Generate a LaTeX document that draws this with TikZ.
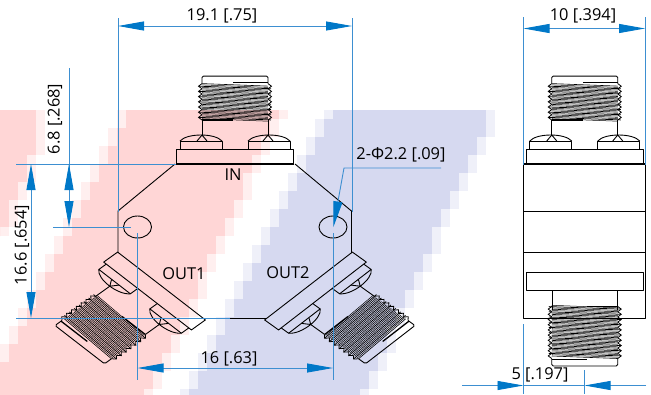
\documentclass[tikz,border=0pt]{standalone}
\usepackage{fontspec}
\setmainfont{Open Sans}
\usetikzlibrary{arrows.meta}
\definecolor{dimblue}{HTML}{3D8FD1}
\definecolor{tipblue}{HTML}{0078C8}
\definecolor{wmred}{HTML}{FFD6D6}
\definecolor{wmblue}{HTML}{D6D9F0}
\tikzset{
    dimtip/.tip={Triangle[length=26pt,width=9pt,color=tipblue]},
    dimline/.style={draw=dimblue, line width=0.9pt},
    dimtext/.style={font=\fontsize{16.4}{18}\selectfont, inner sep=0pt},
    partline/.style={line width=0.9pt, line join=round},
    pics/thread/.style={code={
        \foreach \i in {1,...,#1} {
            \pgfmathsetmacro\ya{-(\i-1)*5.2}
            \pgfmathsetmacro\yb{-\i*5.2}
            \pgfmathsetmacro\ym{-(\i-0.5)*5.2}
            \pgfmathsetmacro\yq{-(\i-0.75)*5.2}
            \pgfmathsetmacro\yr{-(\i-0.25)*5.2}
            % teeth
            \draw[line width=0.8pt] (-33,\ya) -- (-36.5,\ym) -- (-33,\yb);
            \draw[line width=0.8pt] (33,\ya) -- (36.5,\ym) -- (33,\yb);
            % turns of the thread
            \draw[line width=0.75pt] (-36,\ym) -- (36,\ym+2.5);
            \draw[line width=0.6pt] (-33,\yb) -- (33,\yb+2.5);
            \draw[line width=0.5pt] (-33,\yq) -- (33,\yq+2.5);
            \draw[line width=0.5pt] (-33,\yr) -- (33,\yr+2.5);
        }
        \pgfmathsetmacro\yc{-#1*5.2}
        % end cap
        \draw[partline, rounded corners=1.5pt] (-33,\yc) -- (-33,\yc-7.5) -- (33,\yc-7.5) -- (33,\yc);
        % short heavy lines
        \draw[line width=1.3pt] (-33,0) -- (-2,0);
        \draw[line width=1.3pt] (-2,\yc-1) -- (33,\yc-1);
    }},
    pics/connector/.style={code={
        % flange
        \draw[partline] (-58.5,0) rectangle (58.5,-15);
        \foreach \sgn in {-1,1} {
            % screw head
            \draw[partline] ({\sgn*34-21},-15) -- ++(0,-8) -- ++(42,0) -- ++(0,8);
            \draw[partline] ({\sgn*34-21},-23) .. controls ({\sgn*34-14},-31) and ({\sgn*34+14},-31) .. ({\sgn*34+21},-23);
            \draw[partline] (\sgn*33-5,-23) -- (\sgn*33,-29) -- (\sgn*33+5,-23);
            % neck
            \draw[partline] (\sgn*33,-29) -- (\sgn*33,-44);
        }
        \pic[transform shape] at (0,-44) {thread=7};
    }},
}

\begin{document}
\begin{tikzpicture}[x=1pt, y=-1pt]
    \useasboundingbox (0,0) rectangle (651,394);

    % Background marks
    \begin{scope}
        \clip (0,0) rectangle (651,394);
        \foreach \yy in {110,119,...,227} {
            \pgfmathsetmacro\xb{9*round(min(38,38*(235-\yy)/100)/9)}
            \fill[wmred!40] (0,\yy) rectangle (\xb+9,\yy+9.3);
            \fill[wmred] (0,\yy) rectangle (\xb,\yy+9.3);
        }
        \foreach \yy in {110,119,...,389} {
            \pgfmathsetmacro\xa{9*round((128-0.508*(\yy-110))/9)}
            \pgfmathsetmacro\xb{9*round((276-0.458*(\yy-110))/9)}
            \fill[wmred!40] (\xa-9,\yy) rectangle (\xb+9,\yy+9.3);
            \fill[wmred] (\xa,\yy) rectangle (\xb,\yy+9.3);
            \pgfmathsetmacro\xc{9*round((330-0.49*(\yy-110))/9)}
            \pgfmathsetmacro\xd{9*round((490-0.458*(\yy-110))/9)}
            \fill[wmblue!40] (\xc-9,\yy) rectangle (\xd+9,\yy+9.3);
            \fill[wmblue] (\xc,\yy) rectangle (\xd,\yy+9.3);
        }
    \end{scope}

    % Front view: body
    \draw[partline] (175,164) -- (118,211) -- (118,253);
    \draw[partline] (205,318) -- (267,318);
    \draw[partline] (295,164) -- (351.5,211) -- (351.5,253);
    \draw[line width=1.4pt] (176,164) -- (294,164);
    \draw[partline] (137.5,227) ellipse (14 and 11);
    \draw[partline] (333,227) ellipse (14 and 11);

    % Front view: connectors
    \pic at (235,164) {connector};
    \pic[cm={-0.75,0.58,-0.93,-0.667,(0,0)}] at (161.5,286) {connector};
    \pic[cm={0.75,0.58,0.93,-0.667,(0,0)}] at (308.5,286) {connector};

    \node[dimtext] (labelin) at (233,175) {IN};
    \node[dimtext] (labelouta) at (184,274) {OUT1};
    \node[dimtext] (labeloutb) at (288,273) {OUT2};

    % Side view
    \draw[partline] (523.5,164) -- (523.5,318.5) -- (645,318.5) -- (645,164);
    \draw[line width=1.4pt] (523.5,164) -- (645,164);
    \draw[partline] (523.5,211) -- (645,211);
    \draw[partline] (523.5,252.5) -- (645,252.5);
    \draw[partline] (526.5,272) rectangle (643,290.5);
    \draw[partline] (552,290.5) -- (552,310);
    \draw[partline] (617.5,290.5) -- (617.5,310);
    \pic at (584.75,164) {connector};
    \pic[rotate=180] at (584.75,306.5) {thread=10};

    % 19.1 dimension
    \coordinate (widtha) at (118,18);
    \coordinate (widthb) at (118,212);
    \coordinate (widthc) at (352,18);
    \coordinate (widthd) at (352,212);
    \coordinate (widthl) at (118,26);
    \coordinate (widthr) at (352,26);
    \draw[dimline] (widtha) -- (widthb);
    \draw[dimline] (widthc) -- (widthd);
    \draw[dimline, dimtip-dimtip] (widthl) -- (widthr);
    \node[dimtext] (labelwidth) at (222,16) {19.1 [.75]};

    % 6.8 and 16.6 dimensions
    \coordinate (inlinea) at (16,164);
    \coordinate (inlineb) at (176,164);
    \coordinate (holea) at (53,227);
    \coordinate (holeb) at (131,227);
    \coordinate (outa) at (16,318);
    \coordinate (outb) at (230,318);
    \draw[dimline] (inlinea) -- (inlineb);
    \draw[dimline] (holea) -- (holeb);
    \draw[dimline] (outa) -- (outb);

    \coordinate (shorttop) at (69,68);
    \coordinate (shortup) at (69,164);
    \coordinate (shortdown) at (69,227);
    \coordinate (shortmid) at (69,195);
    \draw[dimline, -dimtip] (shorttop) -- (shortdown);
    \draw[dimline, -dimtip] (shortmid) -- (shortup);
    \node[dimtext, rotate=90] (labelshort) at (55,119) {6.8 [.268]};

    \coordinate (longup) at (31,164);
    \coordinate (longdown) at (31,318);
    \draw[dimline, dimtip-dimtip] (longup) -- (longdown);
    \node[dimtext, rotate=90] (labellong) at (22,245) {16.6 [.654]};

    % 16 dimension
    \coordinate (spana) at (137.5,233);
    \coordinate (spanb) at (137.5,380);
    \coordinate (spanc) at (333,233);
    \coordinate (spand) at (333,380);
    \coordinate (spanl) at (137.5,368);
    \coordinate (spanr) at (333,368);
    \draw[dimline] (spana) -- (spanb);
    \draw[dimline] (spanc) -- (spand);
    \draw[dimline, dimtip-dimtip] (spanl) -- (spanr);
    \node[dimtext] (labelspan) at (229,359) {16 [.63]};

    % Hole leader
    \coordinate (leadera) at (441,168);
    \coordinate (leaderb) at (344,168);
    \coordinate (leaderc) at (333.3,227.3);
    \draw[dimline, -dimtip] (leadera) -- (leaderb) -- (leaderc);
    \node[dimtext] (labelhole) at (401,155) {2-Φ2.2 [.09]};

    % 10 dimension
    \coordinate (sidea) at (523.5,17);
    \coordinate (sideb) at (523.5,165);
    \coordinate (sidec) at (645,17);
    \coordinate (sided) at (645,165);
    \coordinate (sidel) at (523.5,28.5);
    \coordinate (sider) at (645,28.5);
    \draw[dimline] (sidea) -- (sideb);
    \draw[dimline] (sidec) -- (sided);
    \draw[dimline, dimtip-dimtip] (sidel) -- (sider);
    \node[dimtext] (labelside) at (583,16) {10 [.394]};

    % 5 dimension
    \coordinate (halfa) at (523.5,324);
    \coordinate (halfb) at (523.5,394);
    \coordinate (halfc) at (584.5,370);
    \coordinate (halfd) at (584.5,394);
    \coordinate (halfl) at (462,385.5);
    \coordinate (halfm) at (523.5,385.5);
    \coordinate (halfn) at (584.5,385.5);
    \coordinate (halfr) at (646,385.5);
    \draw[dimline] (halfa) -- (halfb);
    \draw[dimline] (halfc) -- (halfd);
    \draw[dimline, -dimtip] (halfl) -- (halfm);
    \draw[dimline, -dimtip] (halfr) -- (halfn);
    \draw[dimline] (halfm) -- (halfn);
    \node[dimtext] (labelhalf) at (540,375) {5 [.197]};
\end{tikzpicture}
\end{document}
